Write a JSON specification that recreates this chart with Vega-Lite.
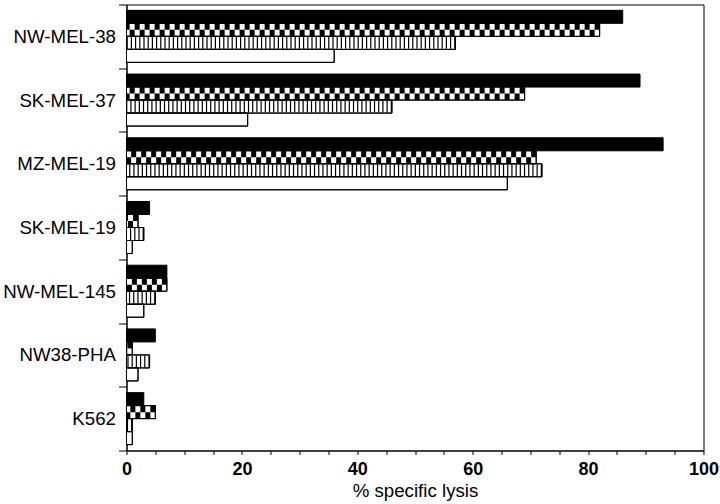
{
  "$schema": "https://vega.github.io/schema/vega-lite/v6.json",
  "width": 577,
  "height": 446,
  "autosize": {"type": "none"},
  "padding": {"left": 126.5, "top": 4.5, "right": 16.5, "bottom": 53.5},
  "background": "white",
  "config": {
    "view": {"stroke": "black", "strokeWidth": 1},
    "font": "Liberation Sans",
    "axis": {"domainColor": "black", "tickColor": "black", "labelColor": "black", "titleColor": "black", "grid": false, "domainWidth": 1, "tickWidth": 1},
    "axisY": {"labelFontSize": 18.7, "labelFont": "Liberation Sans", "tickSize": 8, "labelPadding": 3, "tickBand": "extent"},
    "axisX": {"labelFontSize": 18, "labelFontWeight": "bold", "tickSize": 4, "labelPadding": 6, "titleFontSize": 18.7, "titleFontWeight": "normal", "titlePadding": 3, "labelFlush": false, "labelOverlap": false,
      "values": [0,5,10,15,20,25,30,35,40,45,50,55,60,65,70,75,80,85,90,95,100],
      "labelExpr": "datum.value % 20 == 0 ? datum.label : ''"}
  },
  "data": {"values": [
    {"cell": "NW-MEL-38", "series": "solid", "lysis": 86},
    {"cell": "NW-MEL-38", "series": "checkered", "lysis": 82},
    {"cell": "NW-MEL-38", "series": "striped", "lysis": 57},
    {"cell": "NW-MEL-38", "series": "open", "lysis": 36},
    {"cell": "SK-MEL-37", "series": "solid", "lysis": 89},
    {"cell": "SK-MEL-37", "series": "checkered", "lysis": 69},
    {"cell": "SK-MEL-37", "series": "striped", "lysis": 46},
    {"cell": "SK-MEL-37", "series": "open", "lysis": 21},
    {"cell": "MZ-MEL-19", "series": "solid", "lysis": 93},
    {"cell": "MZ-MEL-19", "series": "checkered", "lysis": 71},
    {"cell": "MZ-MEL-19", "series": "striped", "lysis": 72},
    {"cell": "MZ-MEL-19", "series": "open", "lysis": 66},
    {"cell": "SK-MEL-19", "series": "solid", "lysis": 4},
    {"cell": "SK-MEL-19", "series": "checkered", "lysis": 2},
    {"cell": "SK-MEL-19", "series": "striped", "lysis": 3},
    {"cell": "SK-MEL-19", "series": "open", "lysis": 1},
    {"cell": "NW-MEL-145", "series": "solid", "lysis": 7},
    {"cell": "NW-MEL-145", "series": "checkered", "lysis": 7},
    {"cell": "NW-MEL-145", "series": "striped", "lysis": 5},
    {"cell": "NW-MEL-145", "series": "open", "lysis": 3},
    {"cell": "NW38-PHA", "series": "solid", "lysis": 5},
    {"cell": "NW38-PHA", "series": "checkered", "lysis": 1},
    {"cell": "NW38-PHA", "series": "striped", "lysis": 4},
    {"cell": "NW38-PHA", "series": "open", "lysis": 2},
    {"cell": "K562", "series": "solid", "lysis": 3},
    {"cell": "K562", "series": "checkered", "lysis": 5},
    {"cell": "K562", "series": "striped", "lysis": 1},
    {"cell": "K562", "series": "open", "lysis": 1}
  ]},
  "encoding": {
    "y": {"field": "cell", "type": "nominal", "sort": ["NW-MEL-38","SK-MEL-37","MZ-MEL-19","SK-MEL-19","NW-MEL-145","NW38-PHA","K562"], "scale": {"paddingInner": 0, "paddingOuter": 0}, "title": null}
  },
  "layer": [
    {
      "mark": {"type": "bar", "stroke": "black", "strokeWidth": 1},
      "encoding": {
        "x": {"field": "lysis", "type": "quantitative", "scale": {"domain": [0, 100]}, "title": "% specific lysis"},
        "yOffset": {"field": "series", "type": "nominal", "scale": {"domain": ["solid","checkered","striped","open"], "paddingInner": 0, "paddingOuter": 0.45}},
        "fill": {"field": "series", "type": "nominal", "scale": {"domain": ["solid","checkered","striped","open"], "range": ["black","white","white","white"]}, "legend": null}
      }
    },
    {
      "transform": [{"filter": "datum.series == 'striped'"}],
      "mark": {"type": "rule", "stroke": "black", "strokeWidth": 12, "strokeDash": [1.2, 3], "strokeCap": "butt"},
      "encoding": {
        "x": {"field": "lysis", "type": "quantitative", "title": "% specific lysis"},
        "x2": {"datum": 0},
        "yOffset": {"field": "series", "type": "nominal", "scale": {"domain": ["solid","checkered","striped","open"], "paddingInner": 0, "paddingOuter": 0.45}}
      }
    },
    {
      "transform": [{"filter": "datum.series == 'checkered'"}],
      "mark": {"type": "rule", "stroke": "black", "strokeWidth": 6.5, "strokeDash": [5, 5], "strokeCap": "butt"},
      "encoding": {
        "x": {"field": "lysis", "type": "quantitative", "title": "% specific lysis"},
        "x2": {"datum": 0},
        "yOffset": {"field": "series", "type": "nominal", "scale": {"domain": ["h0","h1","checkered","h3","h4","h5","h6","h7"], "paddingInner": 0, "paddingOuter": 0.9}}
      }
    },
    {
      "transform": [{"filter": "datum.series == 'checkered'"}],
      "mark": {"type": "rule", "stroke": "black", "strokeWidth": 6.5, "strokeDash": [5, 5], "strokeDashOffset": 5, "strokeCap": "butt"},
      "encoding": {
        "x": {"field": "lysis", "type": "quantitative", "title": "% specific lysis"},
        "x2": {"datum": 0},
        "yOffset": {"field": "series", "type": "nominal", "scale": {"domain": ["h0","h1","h2","checkered","h4","h5","h6","h7"], "paddingInner": 0, "paddingOuter": 0.9}}
      }
    },
    {
      "transform": [{"filter": "datum.series != 'solid'"}],
      "mark": {"type": "bar", "fillOpacity": 0, "stroke": "black", "strokeWidth": 1},
      "encoding": {
        "x": {"field": "lysis", "type": "quantitative", "title": "% specific lysis"},
        "yOffset": {"field": "series", "type": "nominal", "scale": {"domain": ["solid","checkered","striped","open"], "paddingInner": 0, "paddingOuter": 0.45}}
      }
    }
  ],
  "resolve": {"scale": {"yOffset": "independent"}}
}
